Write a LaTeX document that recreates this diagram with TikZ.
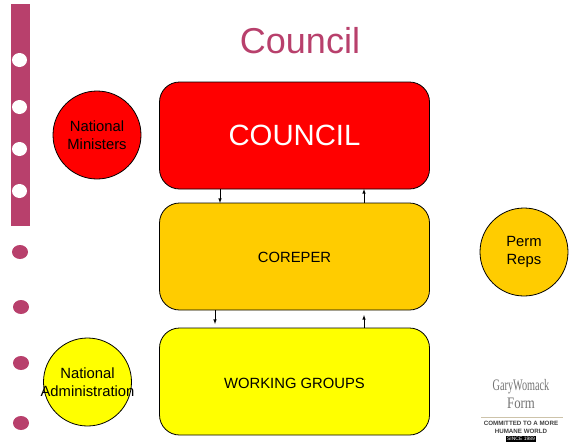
\documentclass[tikz,border=0pt]{standalone}
\usepackage{fontspec}
\setmainfont{Liberation Sans}
\newfontfamily\logofont{Liberation Serif}
\usepackage{xcolor}
\definecolor{plum}{RGB}{184,64,108}
\definecolor{amber}{RGB}{255,204,0}
\definecolor{lemon}{RGB}{255,255,0}
\definecolor{logotan}{RGB}{205,195,170}
\usetikzlibrary{shapes.geometric}
\tikzset{
    bodybox/.style={draw=black, line width=0.8pt, rounded corners=20pt, minimum width=270pt, minimum height=107pt, inner sep=0pt, font=\fontsize{14.8}{17}\selectfont},
    sidecircle/.style={circle, draw=black, line width=0.8pt, minimum size=88pt, inner sep=0pt, align=center, font=\fontsize{14.8}{18}\selectfont},
    hole/.style={ellipse, fill=white, minimum width=15pt, minimum height=14pt, inner sep=0pt},
    bullet/.style={ellipse, fill=plum, minimum width=16pt, minimum height=14pt, inner sep=0pt},
    link/.style={-latex, black, line width=0.6pt},
    logotext/.style={inner sep=0pt, align=center}
}
\begin{document}
\begin{tikzpicture}[x=1pt, y=-1pt]
    \useasboundingbox (0, 0) rectangle (572, 445);
    \fill[plum] (11, 4) rectangle (30, 226);
    \node[hole] (hole1) at (19.5, 60) {};
    \node[hole] (hole2) at (19.5, 107) {};
    \node[hole] (hole3) at (19.5, 149) {};
    \node[hole] (hole4) at (19.5, 191) {};
    \node[bullet] (dot1) at (20, 252) {};
    \node[bullet] (dot2) at (21, 307) {};
    \node[bullet] (dot3) at (21, 363) {};
    \node[bullet] (dot4) at (21, 423) {};
    \node[text=plum, inner sep=0pt, font=\fontsize{36}{40}\selectfont] (title) at (300, 41) {Council};
    \node[bodybox, fill=red, text=white, font=\fontsize{29.3}{33}\selectfont] (council) at (294.5, 135.5) {COUNCIL};
    \node[bodybox, fill=amber, text height=11.5pt, text depth=0pt] (coreper) at (294.5, 256.5) {COREPER};
    \node[bodybox, fill=lemon, text height=13pt, text depth=0pt] (groups) at (294.5, 381.5) {WORKING GROUPS};
    \node[sidecircle, fill=red] (ministers) at (97, 135) {National\\Ministers};
    \node[sidecircle, fill=lemon] (admin) at (87.5, 382) {National\\\makebox[0pt]{Administration}};
    \node[sidecircle, fill=amber] (reps) at (524, 252) {Perm\\Reps};
    \coordinate (downa) at (220, 189);
    \coordinate (downb) at (220, 203);
    \coordinate (upa) at (364, 203);
    \coordinate (upb) at (364, 189);
    \coordinate (downc) at (215, 310);
    \coordinate (downd) at (215, 324);
    \coordinate (upc) at (364, 328);
    \coordinate (upd) at (364, 315);
    \draw[link] (downa) -- (downb);
    \draw[link] (upa) -- (upb);
    \draw[link] (downc) -- (downd);
    \draw[link] (upc) -- (upd);
    \node[logotext, text=black!55, font=\logofont\fontsize{16}{18}\selectfont] (logoname) at (521, 394) {\scalebox{0.64}[1]{GaryWomack}\\\scalebox{0.8}[1]{Form}};
    \coordinate (rulea) at (481, 417);
    \coordinate (ruleb) at (563, 417);
    \draw[logotan, line width=1pt] (rulea) -- (ruleb);
    \node[logotext, text=black!75, font=\bfseries\fontsize{6.2}{8}\selectfont] (logoline) at (521, 427) {COMMITTED TO A MORE\\HUMANE WORLD};
    \node[fill=black, text=white, inner sep=0.8pt, font=\fontsize{5}{5}\selectfont] (logoyear) at (521, 439) {SINCE 1989};
\end{tikzpicture}
\end{document}
